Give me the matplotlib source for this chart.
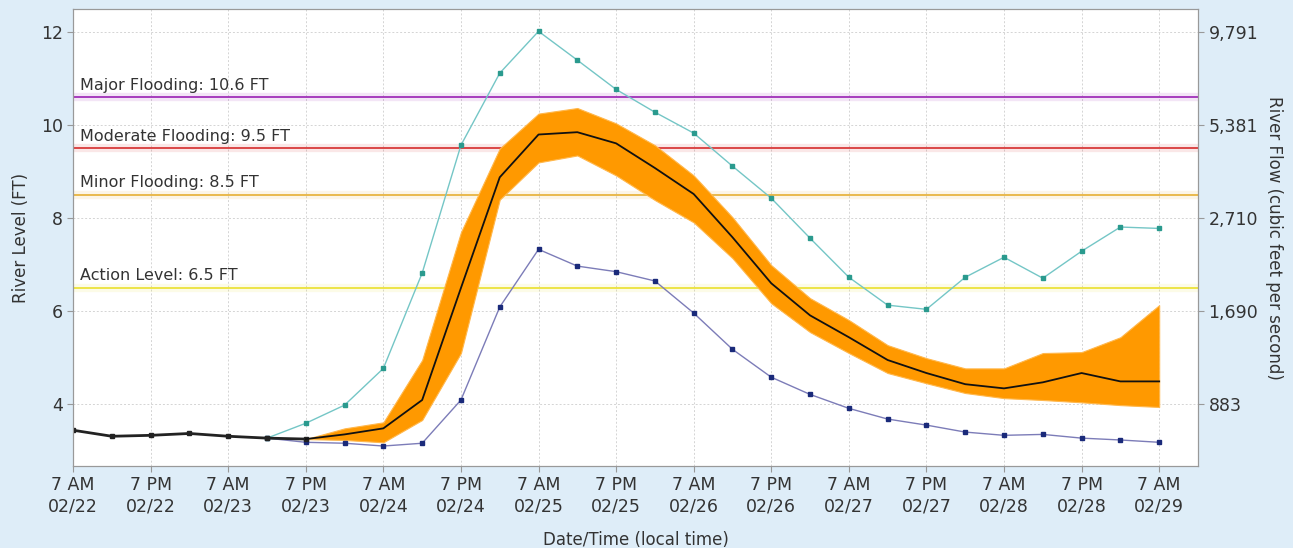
import numpy as np
import matplotlib.pyplot as plt

# hours since 7 AM 02/22, every 6 hours
hours = np.arange(0, 169, 6)

# observed + forecast stage (FT)
stage = [3.44, 3.31, 3.33, 3.37, 3.31, 3.27, 3.25, 3.35, 3.48, 4.09,
         6.5, 8.88, 9.8, 9.85, 9.61, 9.08, 8.52, 7.59, 6.6, 5.91,
         5.44, 4.95, 4.67, 4.43, 4.34, 4.47, 4.67, 4.49, 4.49]

# forecast uncertainty band, from 7 PM 02/23
band_hours = np.arange(36, 169, 6)
band_low = [3.25, 3.23, 3.18, 3.66, 5.1, 8.4, 9.2, 9.35, 8.92, 8.39,
            7.91, 7.14, 6.17, 5.55, 5.1, 4.67, 4.45, 4.24, 4.13, 4.09,
            4.04, 3.98, 3.94]
band_high = [3.25, 3.48, 3.61, 4.95, 7.7, 9.5, 10.25, 10.37, 10.04, 9.57,
             8.92, 8.02, 6.99, 6.28, 5.81, 5.27, 4.99, 4.77, 4.77, 5.1,
             5.12, 5.44, 6.13]

# high / low scenario traces, from 1 PM 02/23
scen_hours = np.arange(30, 169, 6)
scen_high = [3.27, 3.59, 3.98, 4.77, 6.82, 9.57, 11.12, 12.02, 11.4, 10.77,
             10.28, 9.83, 9.12, 8.43, 7.57, 6.73, 6.13, 6.04, 6.73, 7.16,
             6.71, 7.29, 7.81, 7.78]
scen_low = [3.27, 3.18, 3.16, 3.10, 3.16, 4.09, 6.09, 7.33, 6.97, 6.85,
            6.65, 5.96, 5.18, 4.58, 4.21, 3.91, 3.68, 3.55, 3.40, 3.33,
            3.35, 3.27, 3.23, 3.18]

flood_names = ['Major Flooding: 10.6 FT', 'Moderate Flooding: 9.5 FT',
               'Minor Flooding: 8.5 FT', 'Action Level: 6.5 FT']
flood_levels = [10.6, 9.5, 8.5, 6.5]
flood_colors = ['#a030b8', '#d83a3a', '#e8b440', '#ece23a']

tick_labels = ['7 AM\n02/22', '7 PM\n02/22', '7 AM\n02/23', '7 PM\n02/23',
               '7 AM\n02/24', '7 PM\n02/24', '7 AM\n02/25', '7 PM\n02/25',
               '7 AM\n02/26', '7 PM\n02/26', '7 AM\n02/27', '7 PM\n02/27',
               '7 AM\n02/28', '7 PM\n02/28', '7 AM\n02/29']
flow_ticks = [4, 6, 8, 10, 12]
flow_labels = ['883', '1,690', '2,710', '5,381', '9,791']

bg = '#deedf8'
txt = '#333333'

fig = plt.figure(figsize=(12.93, 5.48), dpi=100, facecolor=bg)
ax = fig.add_axes([0.0565, 0.1496, 0.87, 0.834])
ax.set_facecolor('white')

# flood category lines with a soft halo
for name, lvl, c in zip(flood_names, flood_levels, flood_colors):
    ax.axhline(lvl, color=c, lw=6, alpha=0.12, zorder=1)
    ax.axhline(lvl, color=c, lw=1.3, zorder=2)
    ax.text(1, lvl + 0.1, name, color=txt, fontsize=11.5, va='bottom', ha='left', zorder=6)

ax.fill_between(band_hours, band_low, band_high, color='#ff9900', lw=0.8,
                edgecolor='#ffb84d', zorder=3)

ax.plot(scen_hours, scen_high, color='#74c6c6', lw=1, marker='s', ms=2.5,
        mfc='#2a9a8e', mec='#2a9a8e', zorder=4)
ax.plot(scen_hours, scen_low, color='#7c7cb8', lw=1, marker='s', ms=2.5,
        mfc='#1a2a7a', mec='#1a2a7a', zorder=4)

ax.plot(hours[:7], stage[:7], color='#222222', lw=2, marker='s', ms=2.5, zorder=5)
ax.plot(hours[6:], stage[6:], color='#111111', lw=1.3, zorder=5)

ax.set_xlim(0, 174)
ax.set_ylim(2.67, 12.5)
ax.set_xticks(np.arange(0, 169, 12))
ax.set_xticklabels(tick_labels)
ax.set_yticks([4, 6, 8, 10, 12])
ax.grid(True, color='#d4d4d4', ls=(0, (2, 2)), lw=0.7, zorder=0)
ax.set_axisbelow(True)

for s in ax.spines.values():
    s.set_color('#999999')
ax.tick_params(colors='#999999', labelcolor=txt, labelsize=12.5, length=4)
ax.set_xlabel('Date/Time (local time)', color=txt, fontsize=12, labelpad=11)
ax.set_ylabel('River Level (FT)', color=txt, fontsize=12, labelpad=8)

ax2 = ax.twinx()
ax2.set_ylim(ax.get_ylim())
ax2.set_yticks(flow_ticks)
ax2.set_yticklabels(flow_labels)
for s in ax2.spines.values():
    s.set_color('#999999')
ax2.tick_params(colors='#999999', labelcolor=txt, labelsize=12.5, length=4)
ax2.set_ylabel('River Flow (cubic feet per second)', color=txt, fontsize=12,
               rotation=270, labelpad=18)

fig.savefig('out.png', dpi=100, facecolor=bg)
